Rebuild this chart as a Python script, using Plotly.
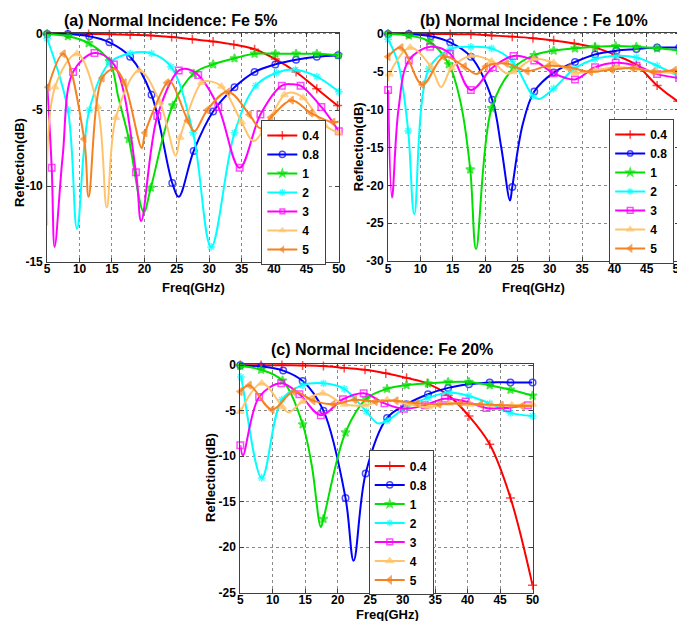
import plotly.graph_objects as go

# ---------------- series definitions ----------------
SERIES = ['0.4', '0.8', '1', '2', '3', '4', '5']
COLORS = ['#FF0000', '#0000FF', '#00E000', '#00FFFF', '#FF00FF', '#FFC46B', '#F58220']
SYMBOLS = ['cross-thin-open', 'circle-open', 'star', 'asterisk-open',
           'square-open', 'triangle-up', 'triangle-left']
X_TICKS = [5, 10, 15, 20, 25, 30, 35, 40, 45, 50]

# (freq GHz, reflection dB) at marker points, and extra curve points without markers
# ---- (a) Fe 5% ----
A_04_MARK = [(5, 0), (8.2, 0), (11.4, 0), (14.6, -0.02), (17.8, -0.05), (21.0, -0.1), (24.2, -0.2), (27.4, -0.35),
             (30.6, -0.5), (33.8, -0.7), (37.0, -1.0), (40.2, -1.65), (43.4, -2.5), (46.6, -3.6), (49.8, -4.7)]
A_04_KNOT = [(50, -4.75)]
A_08_MARK = [(5, 0), (8.2, 0), (11.5, -0.15), (14.6, -0.55), (17.8, -1.5), (21.1, -4.0), (24.3, -9.8), (27.6, -7.7),
             (30.6, -5.1), (33.9, -3.5), (37.0, -2.5), (40.2, -2.0), (43.4, -1.7), (46.6, -1.5), (49.9, -1.4)]
A_08_KNOT = [(25.3, -10.7)]
A_1_MARK = [(5, 0), (8.2, -0.15), (11.4, -0.6), (14.6, -1.8), (17.6, -6.9), (21.0, -10.1), (24.4, -4.7), (27.6, -2.6),
            (30.6, -2.0), (33.9, -1.6), (37.0, -1.3), (40.2, -1.3), (43.4, -1.3), (46.6, -1.3), (49.9, -1.4)]
A_1_KNOT = [(16.0, -4.2), (19.9, -11.7)]
A_2_MARK = [(5, -0.3), (8.2, -5.0), (11.5, -5.0), (14.6, -1.9), (17.8, -1.28), (21.1, -1.28), (24.1, -2.15), (27.5, -6.5),
            (30.3, -14.0), (33.9, -6.5), (37.2, -3.4), (40.4, -2.55), (43.3, -2.35), (46.6, -2.8), (50, -3.8)]
A_2_KNOT = [(9.6, -12.8)]
A_3_MARK = [(5.7, -8.8), (9.0, -2.5), (12.3, -1.25), (15.3, -2.0), (18.7, -9.1), (22.0, -5.4), (25.3, -2.4), (28.3, -2.7),
            (31.4, -4.8), (34.7, -8.8), (37.9, -5.3), (41.2, -3.4), (44.1, -3.4), (47.3, -4.8), (50, -6.4)]
A_3_KNOT = [(5, -3.3), (6.15, -14.0), (7.4, -8.0), (19.5, -12.3), (26.6, -2.3), (42.7, -3.3)]
A_4_MARK = [(6.2, -3.5), (9.6, -1.3), (12.8, -4.8), (15.6, -5.5), (19.2, -2.4), (22.4, -4.5), (25.5, -6.8), (28.8, -3.2),
            (31.9, -3.45), (35.0, -5.8), (38.4, -6.3), (41.6, -4.0), (44.5, -4.2), (47.8, -6.0), (50, -6.5)]
A_4_KNOT = [(5, -12.6), (14.2, -11.4), (24.85, -8.0), (29.8, -3.1), (36.8, -7.05), (42.7, -3.85)]
A_5_MARK = [(5.15, -3.5), (7.5, -1.3), (10.7, -6.9), (13.5, -2.9), (16.9, -3.2), (20.1, -6.5), (23.5, -3.2), (26.7, -5.7),
            (29.7, -5.0), (32.9, -3.8), (36.2, -5.3), (39.5, -5.5), (42.7, -4.35), (45.7, -5.2), (49.1, -5.8)]
A_5_KNOT = [(11.4, -10.7), (15.4, -2.3), (19.6, -7.5), (24.0, -3.1), (27.7, -6.4), (37.9, -6.2), (50, -5.75)]

# ---- (b) Fe 10% ----
B_04_MARK = [(5, 0), (8.2, 0), (11.4, 0), (14.6, -0.02), (17.8, -0.05), (21.0, -0.2), (24.2, -0.35), (27.4, -0.55),
             (30.6, -0.85), (33.8, -1.25), (37.0, -1.8), (40.2, -2.8), (43.4, -4.1), (46.6, -6.8), (49.8, -8.9)]
B_04_KNOT = [(50, -9.0)]
B_08_MARK = [(5, 0), (8.2, 0), (11.6, -0.3), (14.6, -1.1), (17.8, -3.0), (21.1, -8.7), (24.2, -20.2), (27.6, -7.6),
             (30.6, -5.1), (33.9, -3.7), (37.0, -2.7), (40.3, -2.2), (43.4, -2.0), (46.6, -1.8), (50, -1.8)]
B_08_KNOT = [(22.5, -15.0), (23.85, -22.0), (25.8, -12.0)]
B_1_MARK = [(5, 0), (8.2, -0.2), (11.4, -1.0), (14.4, -4.0), (17.7, -17.9), (21.0, -9.8), (24.4, -4.5), (27.6, -2.8),
            (30.6, -2.2), (33.9, -1.9), (37.0, -1.7), (40.2, -1.6), (43.4, -1.7), (46.6, -1.9), (50, -2.2)]
B_1_KNOT = [(16.2, -9.0), (18.6, -28.4)]
B_2_MARK = [(5, -0.7), (8.1, -12.8), (11.3, -4.6), (14.6, -2.0), (17.8, -1.7), (21.0, -1.9), (24.2, -3.6), (27.4, -8.2),
            (30.6, -7.2), (33.8, -4.6), (37.0, -3.3), (40.2, -2.9), (43.4, -3.1), (46.6, -4.2), (50, -5.6)]
B_2_KNOT = [(6.6, -4.0), (9.05, -23.8), (28.3, -8.6)]
B_3_MARK = [(5, -7.4), (8.2, -3.5), (11.5, -1.7), (14.6, -2.6), (17.8, -7.4), (21.2, -4.4), (24.4, -2.9), (27.6, -3.5),
            (30.6, -5.2), (33.9, -6.0), (37.0, -4.4), (40.2, -3.8), (43.4, -4.2), (46.6, -5.3), (50, -5.8)]
B_3_KNOT = [(5.6, -21.6), (6.6, -10.0)]
B_4_MARK = [(5.2, -5.3), (8.4, -1.8), (11.6, -4.3), (14.8, -4.5), (17.8, -2.9), (21.0, -3.6), (24.4, -5.0), (27.5, -3.3),
            (30.6, -3.8), (33.9, -5.1), (37.0, -4.8), (40.3, -4.4), (43.4, -4.6), (46.6, -5.0), (50, -5.2)]
B_4_KNOT = [(5, -6.2), (13.2, -7.0), (23.3, -5.2)]
B_5_MARK = [(5, -3.0), (7.0, -1.8), (10.3, -6.7), (13.6, -3.0), (16.8, -4.3), (20.1, -4.3), (23.3, -3.9), (26.5, -4.9),
            (29.8, -4.2), (33.0, -4.4), (36.3, -5.0), (39.6, -4.7), (42.8, -4.5), (46.0, -5.0), (49.3, -4.8)]
B_5_KNOT = [(18.7, -5.3), (50, -4.9)]

# ---- (c) Fe 20% ----
C_04_MARK = [(5, 0), (8.2, 0), (11.4, 0), (14.6, -0.03), (17.8, -0.1), (21.0, -0.3), (24.2, -0.5), (27.4, -0.9),
             (30.6, -1.4), (33.8, -2.0), (37.0, -3.3), (40.2, -5.6), (43.4, -8.7), (46.6, -14.6), (50, -24.2)]
C_04_KNOT = []
C_08_MARK = [(5, 0), (8.2, -0.15), (11.6, -0.6), (14.6, -1.75), (17.8, -5.0), (21.2, -14.6), (24.3, -11.9), (27.6, -5.8),
             (30.6, -4.3), (33.9, -3.2), (37.0, -2.5), (40.2, -2.1), (43.4, -1.9), (46.6, -1.9), (50, -1.9)]
C_08_KNOT = [(22.45, -21.5)]
C_1_MARK = [(5, -0.1), (8.2, -0.5), (11.5, -1.7), (14.6, -6.5), (17.8, -16.9), (21.2, -7.4), (24.4, -3.7), (27.6, -2.6),
            (30.6, -2.2), (33.9, -2.0), (37.0, -1.85), (40.2, -1.85), (43.4, -2.2), (46.6, -2.7), (50, -3.35)]
C_1_KNOT = [(16.0, -11.0), (17.4, -17.8)]
C_2_MARK = [(5.1, -1.3), (8.3, -12.4), (11.4, -3.8), (14.6, -2.2), (17.8, -2.0), (21.0, -2.6), (24.4, -5.1), (27.6, -6.1),
            (30.6, -4.6), (33.9, -3.6), (37.2, -3.0), (40.2, -3.4), (43.4, -4.2), (46.6, -5.25), (50, -5.6)]
C_2_KNOT = [(5, -1.2), (26.2, -6.4)]
C_3_MARK = [(5, -8.8), (7.9, -3.5), (11.3, -2.0), (14.1, -3.2), (17.4, -5.5), (20.8, -3.75), (24.0, -3.1), (27.2, -4.2),
            (30.2, -4.8), (33.4, -4.4), (36.5, -3.7), (39.7, -4.0), (42.9, -4.7), (46.1, -4.7), (49.3, -4.4)]
C_3_KNOT = [(5.4, -9.9), (50, -4.4)]
C_4_MARK = [(5, -5.1), (8.3, -2.0), (11.5, -4.6), (14.6, -4.0), (17.7, -3.1), (21.0, -4.3), (24.2, -4.4), (27.6, -3.8),
            (30.8, -4.3), (34.0, -4.6), (37.2, -4.2), (40.4, -4.3), (43.6, -4.4), (46.8, -4.4), (50, -4.3)]
C_4_KNOT = [(12.4, -5.2)]
C_5_MARK = [(5, -2.9), (6.4, -2.2), (9.9, -4.9), (13.2, -2.9), (16.2, -3.9), (19.3, -4.3), (22.6, -3.8), (25.8, -4.0),
            (29.0, -3.9), (32.2, -4.2), (35.6, -4.3), (38.8, -4.2), (42.0, -4.3), (45.2, -4.4), (48.4, -4.5)]
C_5_KNOT = [(50, -4.5)]

PANELS = [
    dict(title='(a) Normal Incidence: Fe 5%', ymin=-15, yticks=[0, -5, -10, -15],
         data=[(A_04_MARK, A_04_KNOT), (A_08_MARK, A_08_KNOT), (A_1_MARK, A_1_KNOT), (A_2_MARK, A_2_KNOT),
               (A_3_MARK, A_3_KNOT), (A_4_MARK, A_4_KNOT), (A_5_MARK, A_5_KNOT)]),
    dict(title='(b) Normal Incidence : Fe 10%', ymin=-30, yticks=[0, -5, -10, -15, -20, -25, -30],
         data=[(B_04_MARK, B_04_KNOT), (B_08_MARK, B_08_KNOT), (B_1_MARK, B_1_KNOT), (B_2_MARK, B_2_KNOT),
               (B_3_MARK, B_3_KNOT), (B_4_MARK, B_4_KNOT), (B_5_MARK, B_5_KNOT)]),
    dict(title='(c) Normal Incidence: Fe 20%', ymin=-25, yticks=[0, -5, -10, -15, -20, -25],
         data=[(C_04_MARK, C_04_KNOT), (C_08_MARK, C_08_KNOT), (C_1_MARK, C_1_KNOT), (C_2_MARK, C_2_KNOT),
               (C_3_MARK, C_3_KNOT), (C_4_MARK, C_4_KNOT), (C_5_MARK, C_5_KNOT)]),
]

# ---------------- layout geometry (pixels in a 685x621 page) ----------------
W, H = 685, 621
FONT = 'Liberation Sans, Arial, sans-serif'
BOX = [  # left, right, top, bottom of plot areas
    (36.7, 332.7, 20, 254),
    (382.7, 678.0, 20, 253),
    (232.7, 529.3, 357.7, 591),
]
LEGEND_POS = [(320, 109), (673, 108), (429, 446)]   # right edge, top
TITLE_POS = [(162, 8), (531, 8), (376, 343)]
YLAB_POS = [(8, 152), (353, 136), (203, 474)]
XLAB_POS = [(185, 280), (530, 280), (382, 613)]


def px(x):
    return x / W


def py(y):
    return 1 - y / H


fig = go.Figure()

for p, panel in enumerate(PANELS):
    sfx = '' if p == 0 else str(p + 1)
    for s, (mark, knot) in enumerate(panel['data']):
        pts = sorted([(f, r, 6.5) for f, r in mark] + [(f, r, 0) for f, r in knot])
        fig.add_trace(go.Scatter(
            x=[q[0] for q in pts], y=[q[1] for q in pts],
            mode='lines+markers', name=SERIES[s],
            line=dict(color=COLORS[s], width=2, shape='spline', smoothing=1),
            marker=dict(symbol=SYMBOLS[s], size=[q[2] for q in pts], color=COLORS[s],
                        line=dict(color=COLORS[s], width=1.5)),
            xaxis='x' + sfx, yaxis='y' + sfx, legend='legend' + sfx,
            cliponaxis=False,
        ))

layout = dict(
    width=W, height=H, margin=dict(l=0, r=0, t=0, b=0),
    paper_bgcolor='white', plot_bgcolor='white', showlegend=True,
    font=dict(family=FONT, size=12, color='black'),
    annotations=[],
)

axis_common = dict(
    showline=True, linecolor='#404040', linewidth=1, mirror='ticks',
    ticks='inside', ticklen=4, tickcolor='#404040',
    showgrid=True, gridcolor='#8a8a8a', griddash='dot', gridwidth=1,
    zeroline=False, tickfont=dict(family=FONT, size=12, weight='bold', color='black'),
)

for p, panel in enumerate(PANELS):
    sfx = '' if p == 0 else str(p + 1)
    l, r, t, b = BOX[p]
    ymin = panel['ymin']
    pad = -ymin * 0.006
    layout['xaxis' + sfx] = dict(axis_common, domain=[px(l), px(r)], range=[5, 50],
                                 tickvals=X_TICKS, ticktext=[str(v) for v in X_TICKS],
                                 ticklabelstandoff=-4, anchor='y' + sfx)
    layout['yaxis' + sfx] = dict(axis_common, domain=[py(b), py(t)], range=[ymin, pad],
                                 tickvals=panel['yticks'], ticktext=[str(v) for v in panel['yticks']],
                                 ticklabelstandoff=1, anchor='x' + sfx)
    lx, ly = LEGEND_POS[p]
    layout['legend' + sfx] = dict(
        x=px(lx), xanchor='right', y=py(ly), yanchor='top',
        bgcolor='white', bordercolor='#404040', borderwidth=1,
        font=dict(family=FONT, size=12, weight='bold', color='black'),
        tracegroupgap=0, itemwidth=30,
    )
    tx, ty = TITLE_POS[p]
    layout['annotations'].append(dict(
        text=panel['title'], x=px(tx), y=py(ty), xref='paper', yref='paper',
        xanchor='center', yanchor='middle', showarrow=False,
        font=dict(family=FONT, size=16, weight='bold', color='black')))
    yx, yy = YLAB_POS[p]
    layout['annotations'].append(dict(
        text='Reflection(dB)', x=px(yx), y=py(yy), xref='paper', yref='paper',
        xanchor='center', yanchor='middle', showarrow=False, textangle=-90,
        font=dict(family=FONT, size=13, weight='bold', color='black')))
    xx, xy = XLAB_POS[p]
    layout['annotations'].append(dict(
        text='Freq(GHz)', x=px(xx), y=py(xy), xref='paper', yref='paper',
        xanchor='center', yanchor='middle', showarrow=False,
        font=dict(family=FONT, size=13, weight='bold', color='black')))

fig.update_layout(layout)
fig.write_html('out.html')
